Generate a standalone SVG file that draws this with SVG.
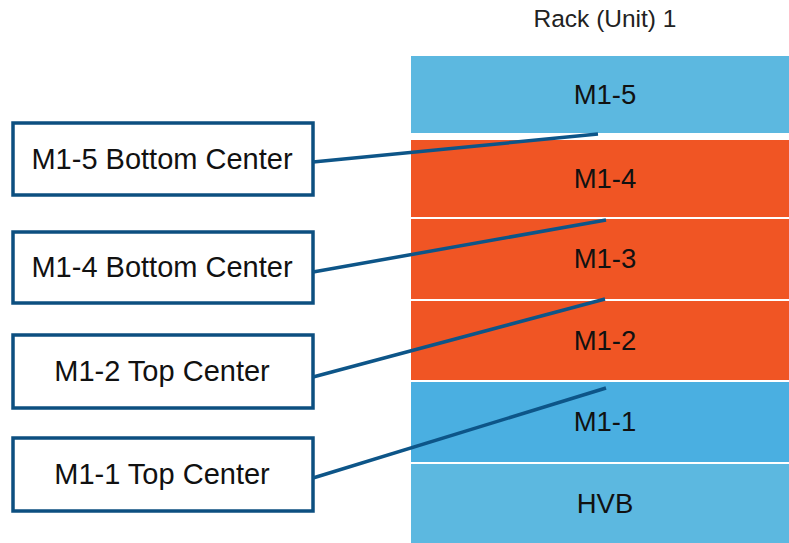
<svg xmlns="http://www.w3.org/2000/svg" width="789" height="543" viewBox="0 0 789 543">
  <style>
    .bg { fill: #ffffff; }
    .unit-blue { fill: #5cb8e0; }
    .unit-blue2 { fill: #4aafe1; }
    .unit-orange { fill: #f05524; }
    .unit-text { font-family: "Liberation Sans", Arial, sans-serif; font-size: 27.5px; fill: #111111; text-anchor: middle; }
    .title { font-family: "Liberation Sans", Arial, sans-serif; font-size: 24.5px; fill: #222222; text-anchor: middle; }
    .callout { fill: #ffffff; stroke: #0c4f80; stroke-width: 3.5; }
    .callout-text { font-family: "Liberation Sans", Arial, sans-serif; font-size: 29px; fill: #111111; text-anchor: middle; }
    .leader { stroke: #0d5588; stroke-width: 3.5; fill: none; stroke-linecap: butt; }
  </style>
  <rect class="bg" x="0" y="0" width="789" height="543"/>

  <text class="title" x="605" y="27">Rack (Unit) 1</text>

  <!-- rack units, top to bottom -->
  <g id="unit-m1-5">
    <rect class="unit-blue" x="411" y="56" width="378" height="77"/>
    <text class="unit-text" x="605" y="104">M1-5</text>
  </g>
  <g id="unit-m1-4">
    <rect class="unit-orange" x="411" y="140" width="378" height="77"/>
    <text class="unit-text" x="605" y="188">M1-4</text>
  </g>
  <g id="unit-m1-3">
    <rect class="unit-orange" x="411" y="219" width="378" height="80"/>
    <text class="unit-text" x="605" y="268">M1-3</text>
  </g>
  <g id="unit-m1-2">
    <rect class="unit-orange" x="411" y="301" width="378" height="79"/>
    <text class="unit-text" x="605" y="350">M1-2</text>
  </g>
  <g id="unit-m1-1">
    <rect class="unit-blue2" x="411" y="382" width="378" height="80"/>
    <text class="unit-text" x="605" y="431">M1-1</text>
  </g>
  <g id="unit-hvb">
    <rect class="unit-blue" x="411" y="464" width="378" height="79"/>
    <text class="unit-text" x="605" y="513">HVB</text>
  </g>

  <!-- callout boxes -->
  <g id="callout-m1-5-bottom">
    <rect class="callout" x="13" y="123" width="300" height="72"/>
    <text class="callout-text" x="162" y="169">M1-5 Bottom Center</text>
  </g>
  <g id="callout-m1-4-bottom">
    <rect class="callout" x="13" y="232" width="300" height="71"/>
    <text class="callout-text" x="162" y="277">M1-4 Bottom Center</text>
  </g>
  <g id="callout-m1-2-top">
    <rect class="callout" x="13" y="335" width="300" height="73"/>
    <text class="callout-text" x="162" y="381">M1-2 Top Center</text>
  </g>
  <g id="callout-m1-1-top">
    <rect class="callout" x="13" y="438" width="300" height="73"/>
    <text class="callout-text" x="162" y="484">M1-1 Top Center</text>
  </g>

  <!-- leader lines -->
  <g id="connectors">
    <line class="leader" x1="313" y1="162" x2="598" y2="134"/>
    <line class="leader" x1="313" y1="272" x2="606" y2="220"/>
    <line class="leader" x1="313" y1="377" x2="605" y2="299"/>
    <line class="leader" x1="313" y1="478" x2="606" y2="388"/>
  </g>
</svg>
